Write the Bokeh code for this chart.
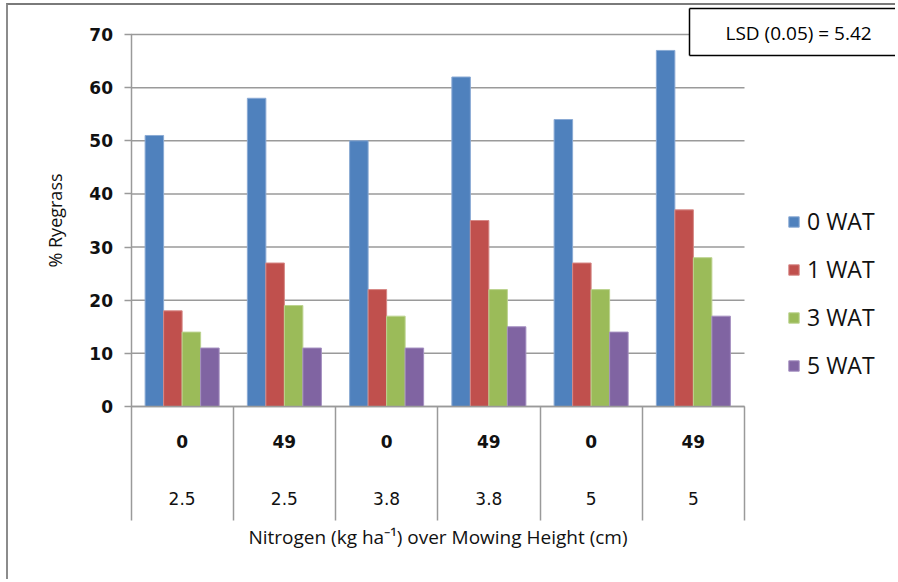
from bokeh.plotting import figure
from bokeh.models import Range1d, LinearAxis, FixedTicker, Legend, LegendItem, Label, ColumnDataSource
from bokeh.embed import file_html
from bokeh.resources import INLINE

# ---- data ----
nitrogen = ["0", "49", "0", "49", "0", "49"]
mow_height = ["2.5", "2.5", "3.8", "3.8", "5", "5"]
series_names = ["0 WAT", "1 WAT", "3 WAT", "5 WAT"]
wat0 = [51, 58, 50, 62, 54, 67]
wat1 = [18, 27, 22, 35, 27, 37]
wat3 = [14, 19, 17, 22, 22, 28]
wat5 = [11, 11, 11, 15, 14, 17]
y_ticks = [0, 10, 20, 30, 40, 50, 60, 70]
lsd_text = "LSD (0.05) = 5.42"
y_title = "% Ryegrass"
x_title = "Nitrogen (kg ha\u207b\u00b9) over Mowing Height (cm)"

series = [wat0, wat1, wat3, wat5]
colors = ["#4F81BD", "#C0504D", "#9BBB59", "#8064A2"]
edges = ["#8AAAD4", "#D68886", "#BCD38F", "#A48FC0"]
GRID = "#9a9a9a"
TXT = "#111111"

n = len(nitrogen)
W, H = 889, 576
# plot area (canvas px): x 0..n -> 122.5..736 ; y 0..70 -> 401..29
sx = (736 - 122.5) / n
sy = (401 - 29) / 70.0
x_range = Range1d(-122.5 / sx, n + (W - 736) / sx)
y_range = Range1d(-(H - 401) / sy, 70 + 29 / sy)

p = figure(width=W, height=H, x_range=x_range, y_range=y_range,
           output_backend="svg", toolbar_location=None, x_axis_type=None, y_axis_type=None,
           min_border=0, min_border_left=0, min_border_right=0, min_border_top=0, min_border_bottom=0)
p.styles = {"margin-left": "6px", "margin-top": "3px",
            "border-left": "2px solid #8c8c8c", "border-top": "2px solid #7a7a7a"}
p.outline_line_color = None
p.background_fill_color = "white"
p.xgrid.visible = False
p.ygrid.visible = False

# horizontal gridlines bounded to the category extent
p.segment(x0=[0] * len(y_ticks), x1=[n] * len(y_ticks), y0=y_ticks, y1=y_ticks,
          line_color=GRID, line_width=1.5)

# y axis
ya = LinearAxis(fixed_location=0, bounds=(0, 70), ticker=FixedTicker(ticks=y_ticks))
ya.axis_line_color = GRID
ya.axis_line_width = 1.5
ya.major_tick_line_color = GRID
ya.major_tick_line_width = 1.5
ya.major_tick_out = 7
ya.major_tick_in = 0
ya.minor_tick_line_color = None
ya.minor_tick_out = 0
ya.major_label_standoff = 11
ya.major_label_text_font = "DejaVu Sans"
ya.major_label_text_font_style = "bold"
ya.major_label_text_font_size = "17px"
ya.major_label_text_color = TXT
ya.axis_label = y_title
ya.axis_label_text_font = "Open Sans"
ya.axis_label_text_font_style = "normal"
ya.axis_label_text_font_size = "18px"
ya.axis_label_text_color = TXT
ya.axis_label_standoff = 20
p.add_layout(ya, "left")

# bars
bw = 0.181
items = []
for i, (name, vals) in enumerate(zip(series_names, series)):
    xs = [j + 0.5 + (i - 1.5) * bw for j in range(n)]
    src = ColumnDataSource(dict(x=xs, top=vals))
    r = p.vbar(x="x", top="top", bottom=0, width=bw, source=src,
               fill_color=colors[i], line_color=edges[i], line_width=1)
    items.append(LegendItem(label=name, renderers=[r]))

pos = [j + 0.5 for j in range(n)]

# category separators + x axis line
axS = LinearAxis(fixed_location=0, bounds=(0, n),
                 ticker=FixedTicker(ticks=[], minor_ticks=list(range(n + 1))))
axS.axis_line_color = GRID
axS.axis_line_width = 1.5
axS.major_tick_out = 0
axS.major_tick_in = 0
axS.minor_tick_out = 114
axS.minor_tick_in = 0
axS.minor_tick_line_color = GRID
axS.minor_tick_line_width = 1.5
p.add_layout(axS, "below")

# first row of category labels (nitrogen)
axA = LinearAxis(fixed_location=0, bounds=(0, n),
                 ticker=FixedTicker(ticks=pos, minor_ticks=[]),
                 major_label_overrides={pos[j]: nitrogen[j] for j in range(n)})
axA.axis_line_color = None
axA.major_tick_out = 0
axA.major_tick_in = 0
axA.minor_tick_out = 0
axA.minor_tick_in = 0
axA.major_tick_line_color = None
axA.minor_tick_line_color = None
axA.major_label_standoff = 28
axA.major_label_text_font = "DejaVu Sans"
axA.major_label_text_font_style = "bold"
axA.major_label_text_font_size = "17px"
axA.major_label_text_color = TXT
p.add_layout(axA, "below")

# second row of category labels (mowing height) + axis title
axB = LinearAxis(fixed_location=0, bounds=(0, n),
                 ticker=FixedTicker(ticks=pos, minor_ticks=[]),
                 major_label_overrides={pos[j]: mow_height[j] for j in range(n)})
axB.axis_line_color = None
axB.major_tick_out = 0
axB.major_tick_in = 0
axB.minor_tick_out = 0
axB.minor_tick_in = 0
axB.major_tick_line_color = None
axB.minor_tick_line_color = None
axB.major_label_standoff = 85
axB.major_label_text_font = "DejaVu Sans"
axB.major_label_text_font_style = "normal"
axB.major_label_text_font_size = "17px"
axB.major_label_text_color = TXT
axB.axis_label = x_title
axB.axis_label_text_font = "Open Sans"
axB.axis_label_text_font_style = "normal"
axB.axis_label_text_font_size = "19px"
axB.axis_label_text_color = TXT
axB.axis_label_standoff = 16
p.add_layout(axB, "below")

legend = Legend(items=items, location=(779, 200), orientation="vertical",
                label_text_font="Open Sans", label_text_font_size="23px", label_text_color=TXT,
                glyph_width=13, glyph_height=13, label_standoff=7, label_height=30,
                spacing=16, padding=0, margin=0, border_line_color=None,
                background_fill_alpha=0)
p.add_layout(legend)

# LSD note box: open on the right, running off the edge like the original
box_left = (681 - 122.5) / sx
box_right = x_range.end + 2
box_top = 70 + (29 - 3) / sy
box_bottom = 70 + (29 - 50) / sy
p.quad(left=[box_left], right=[box_right], top=[box_top], bottom=[box_bottom],
       fill_color="white", line_color=None)
p.segment(x0=[box_left, box_left, box_left], x1=[box_left, box_right, box_right],
          y0=[box_top, box_top, box_bottom], y1=[box_bottom, box_top, box_bottom],
          line_color="black", line_width=1.5)
lsd = Label(x=box_left, y=box_top, text=lsd_text, anchor="top_left",
            text_font="Open Sans", text_font_size="19px", text_color="black",
            padding=dict(left=36, right=36, top=11, bottom=11))
p.add_layout(lsd)

open("out.html", "w").write(file_html(p, INLINE))
